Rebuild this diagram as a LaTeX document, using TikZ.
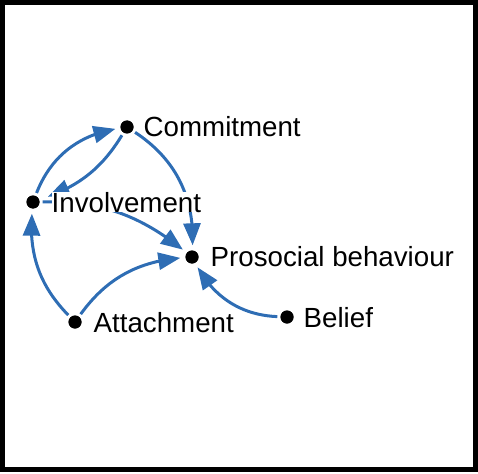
\documentclass[tikz,border=0pt]{standalone}
\usepackage{fontspec}
\setmainfont{Liberation Sans}
\usetikzlibrary{arrows.meta,bending}
\definecolor{arrblue}{RGB}{46,109,180}
\begin{document}
\begin{tikzpicture}[x=1pt,y=1pt,
  dot/.style={circle,fill=black,inner sep=0pt,minimum size=13pt},
  lbl/.style={fill=white,inner sep=0pt,font=\fontsize{27.7}{30}\selectfont},
  arr/.style={draw=arrblue,line width=3pt,-{Triangle[length=22pt,width=17pt]},shorten >=5pt,shorten <=3pt}]
\useasboundingbox (0,0) rectangle (478,-473);
\draw[line width=5pt] (2.5,-2.5) rectangle (475.5,-469.5);
% dots
\node[dot] (com) at (127,-127) {};
\node[dot] (inv) at (33,-202) {};
\node[dot] (pro) at (192,-257) {};
\node[dot] (att) at (75,-322) {};
\node[dot] (bel) at (287,-317) {};
% connectors
\draw[arr] (inv) to[bend left=30] (com);
\draw[arr,shorten >=9pt] (com) to[bend left=20] (inv);
\draw[arr] (com) to[bend left=30] (pro);
\draw[arr] (inv) to[bend left=20] (pro);
\draw[arr] (att) to[bend left=25] (inv);
\draw[arr] (att) to[bend left=25] (pro);
\draw[arr] (bel) to[bend left=30] (pro);
% labels
\node[lbl,anchor=base west] (comL) at (143.5,-136.5) {Commitment};
\node[lbl,anchor=base west] (invL) at (51.5,-212) {Involvement};
\node[lbl,anchor=base west] (proL) at (210.5,-266) {Prosocial behaviour};
\node[lbl,anchor=base west] (attL) at (93.5,-332) {Attachment};
\node[lbl,anchor=base west] (belL) at (303.5,-327) {Belief};
% dots on top
\node[dot] at (com) {};
\node[dot] at (inv) {};
\node[dot] at (pro) {};
\node[dot] at (att) {};
\node[dot] at (bel) {};
\end{tikzpicture}
\end{document}
